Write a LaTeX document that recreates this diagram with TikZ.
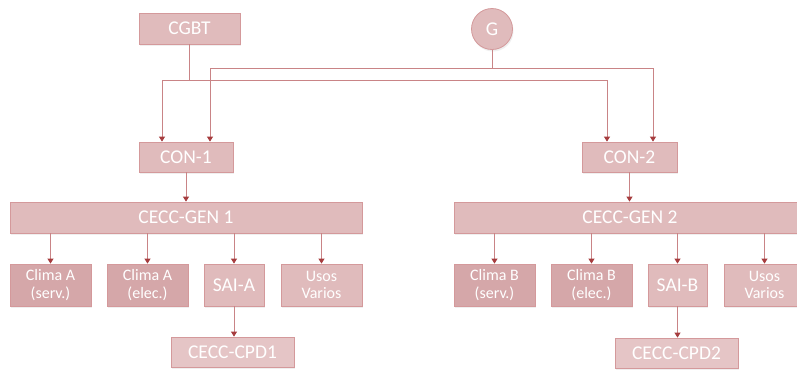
\documentclass[tikz,border=0pt]{standalone}
\usepackage{fontspec}
\setmainfont{Carlito}
\usetikzlibrary{arrows.meta,shadows}
\definecolor{fillA}{HTML}{E0BBBC}
\definecolor{fillClima}{HTML}{D5A7A9}
\definecolor{fillCPD}{HTML}{E5C5C6}
\definecolor{edgeC}{HTML}{D4999B}
\definecolor{lineC}{HTML}{C98486}
\definecolor{tipC}{HTML}{A63C3E}
\tikzset{
  box/.style={draw=edgeC, line width=0.8pt, fill=fillA, text=white, inner sep=0pt,
    align=center, font=\fontsize{19.5}{21}\selectfont,
    drop shadow={opacity=0.12, shadow xshift=1pt, shadow yshift=-2pt}},
  clima/.style={box, fill=fillClima, font=\fontsize{16}{17.5}\selectfont},
  small/.style={box, font=\fontsize{16}{17.5}\selectfont},
  cpd/.style={box, fill=fillCPD},
  conn/.style={draw=lineC, line width=0.8pt},
  arr/.style={conn, -{Triangle[width=6pt,length=5pt,color=tipC]}},
}
\begin{document}
\begin{tikzpicture}[x=1pt,y=-1pt]
\clip (0,0) rectangle (797,370);
\fill[white] (0,0) rectangle (797,370);
% top
\node[box, minimum width=101pt, minimum height=31pt] (CGBT) at (189.5,28.5) {CGBT};
\node[box, circle, minimum size=41pt] (G) at (492,29) {G};
\node[box, minimum width=94pt, minimum height=30pt] (CON1) at (186,157) {CON-1};
\node[box, minimum width=95pt, minimum height=30pt] (CON2) at (629.5,157) {CON-2};
\node[box, minimum width=352pt, minimum height=31pt] (GEN1) at (186,217.5) {CECC-GEN 1};
\node[box, minimum width=352pt, minimum height=31pt] (GEN2) at (630,217.5) {CECC-GEN 2};
% children 1
\node[clima, minimum width=81pt, minimum height=42pt] (CAs) at (50.5,285) {Clima A\\(serv.)};
\node[clima, minimum width=81pt, minimum height=42pt] (CAe) at (147.5,285) {Clima A\\(elec.)};
\node[box, minimum width=60pt, minimum height=42pt] (SAIA) at (234,285) {SAI-A};
\node[small, minimum width=81pt, minimum height=42pt] (UV1) at (321.5,285) {Usos\\Varios};
\node[cpd, minimum width=123pt, minimum height=30pt] (CPD1) at (232.5,352) {CECC-CPD1};
% children 2
\node[clima, minimum width=81pt, minimum height=42pt] (CBs) at (494.5,285) {Clima B\\(serv.)};
\node[clima, minimum width=81pt, minimum height=42pt] (CBe) at (591.5,285) {Clima B\\(elec.)};
\node[box, minimum width=59pt, minimum height=42pt] (SAIB) at (677.5,285) {SAI-B};
\node[small, minimum width=81pt, minimum height=42pt] (UV2) at (764.5,285) {Usos\\Varios};
\node[cpd, minimum width=123pt, minimum height=30pt] (CPD2) at (676.5,353) {CECC-CPD2};
% buses
\coordinate (j1) at (CGBT.south |- 0,80);
\coordinate (j2) at (G.south |- 0,68);
\draw[conn] (CGBT.south) -- (j1);
\draw[arr] (j1) -| ([xshift=-24pt]CON1.north);
\draw[arr] (j1) -| ([xshift=-22.5pt]CON2.north);
\draw[conn] (G.south) -- (j2);
\draw[arr] (j2) -| ([xshift=24pt]CON1.north);
\draw[arr] (j2) -| ([xshift=23.5pt]CON2.north);
% down
\draw[arr] (CON1.south) -- (CON1.south |- GEN1.north);
\draw[arr] (CON2.south) -- (CON2.south |- GEN2.north);
\foreach \c in {CAs,CAe,SAIA,UV1}{\draw[arr] (\c.north |- GEN1.south) -- (\c.north);}
\foreach \c in {CBs,CBe,SAIB,UV2}{\draw[arr] (\c.north |- GEN2.south) -- (\c.north);}
\draw[arr] (SAIA.south) -- (SAIA.south |- CPD1.north);
\draw[arr] (SAIB.south) -- (SAIB.south |- CPD2.north);
\end{tikzpicture}
\end{document}
